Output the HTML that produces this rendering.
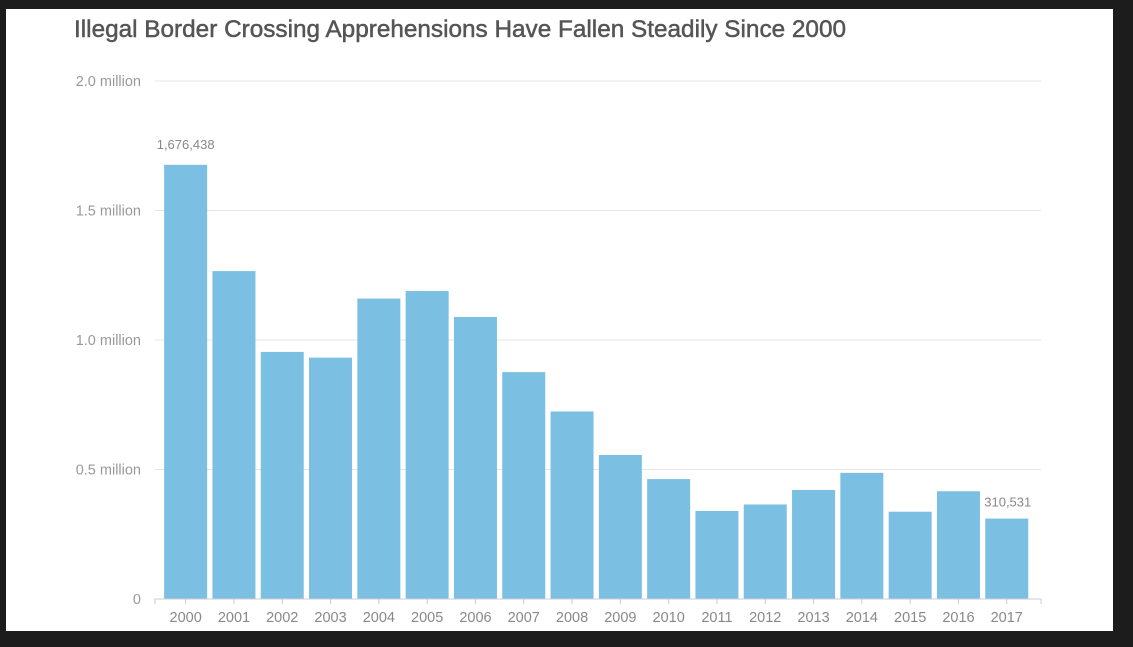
<!DOCTYPE html>
<html><head><meta charset="utf-8"><style>
html,body{margin:0;padding:0;background:#1c1c1c;width:1133px;height:647px;overflow:hidden}
svg{display:block}
text{font-family:"Liberation Sans",sans-serif}
</style></head><body>
<svg width="1133" height="647">
<rect x="6" y="9" width="1107" height="622" fill="#fff"/>
<text x="74" y="37" font-size="24" fill="#555" stroke="#555" stroke-width="0.5" textLength="772" lengthAdjust="spacingAndGlyphs">Illegal Border Crossing Apprehensions Have Fallen Steadily Since 2000</text>
<g id="grid"></g><g id="bars"></g><g id="xaxis"></g>
</svg>
<script>
const years=["2000","2001","2002","2003","2004","2005","2006","2007","2008","2009","2010","2011","2012","2013","2014","2015","2016","2017"];
const values=[1676438,1266000,954000,932000,1160000,1189000,1089000,876000,724000,556000,463000,340000,365000,421000,487000,337000,416000,310531];
const yTicks=[0,500000,1000000,1500000,2000000];
const yTickLabels=["0","0.5 million","1.0 million","1.5 million","2.0 million"];
const labeled=[0,17];
const NS="http://www.w3.org/2000/svg";
const y0=599,yTop=81,yMax=2000000,x0=161.5,band=48.3,bw=43;
const y=v=>y0-(v/yMax)*(y0-yTop);
const xc=i=>x0+band*i+band/2;
function mk(t,a,p){const e=document.createElementNS(NS,t);for(const k in a)e.setAttribute(k,a[k]);p.appendChild(e);return e;}
const g=document.getElementById('grid'),b=document.getElementById('bars'),xa=document.getElementById('xaxis');
yTicks.forEach((v,i)=>{
  if(i>0){const l=mk('line',{x1:155,x2:1041,y1:y(v),y2:y(v),stroke:'#e6e6e6','stroke-width':1},g);
  
  }
  const t=mk('text',{x:141,y:y(v)+5,'font-size':14.5,fill:'#999','text-anchor':'end'},g);t.textContent=yTickLabels[i];
  
  
});
values.forEach((v,i)=>{
  const r=mk('rect',{x:xc(i)-bw/2,y:y(v),width:bw,height:y0-y(v),fill:'#7bbfe3'},b);
  
  
  const tk=mk('line',{x1:xc(i),x2:xc(i),y1:y0,y2:y0+5,stroke:'#ccc'},xa);
  
  
  const t=mk('text',{x:xc(i),y:622,'font-size':14.5,fill:'#888','text-anchor':'middle'},xa);t.textContent=years[i];
  
  
});
const ax=mk('path',{d:`M155 604V599H1041V604`,fill:'none',stroke:'#ccc'},xa);


labeled.forEach(i=>{
  const last=i===values.length-1;
  const t=mk('text',{x:last?xc(i)+1:xc(i),y:last?y(values[i])-12:y(values[i])-16,'font-size':13,fill:'#888','text-anchor':'middle'},b);
  t.textContent=values[i].toLocaleString('en-US');
  
  
});
</script>
</body></html>
